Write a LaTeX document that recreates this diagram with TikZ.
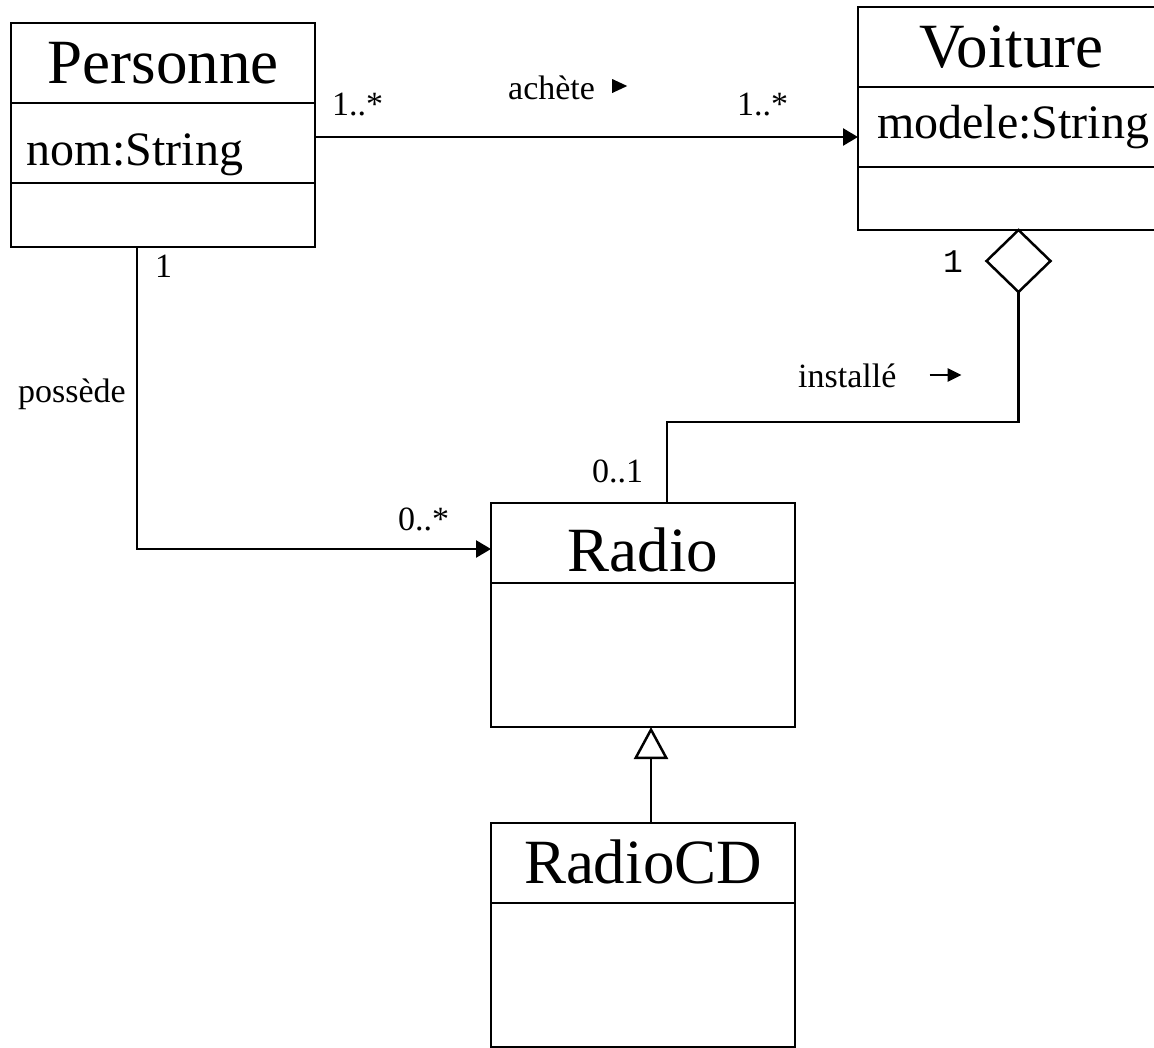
\documentclass[tikz,border=0pt]{standalone}
\usepackage{fontspec}
\setmainfont{Liberation Serif}
\newfontfamily\monofont{Liberation Mono}
\usepackage{tikz}
\usetikzlibrary{arrows.meta,positioning,shapes.geometric}

\tikzset{
	classe/.style={draw, line width=2.5pt, inner sep=0pt, outer sep=0pt, minimum width=304pt, text depth=0pt, text height=40pt},
	titre/.style={classe, minimum height=80pt, font=\fontsize{63}{70}\selectfont},
	attribut/.style={classe, minimum height=80pt, align=left, text width=272pt, inner xsep=16pt, font=\fontsize{48}{56}\selectfont},
	methodes/.style={classe},
	mult/.style={inner sep=0pt, font=\fontsize{34}{40}\selectfont},
	assoc/.style={line width=2.5pt, -{Triangle[length=15pt,width=17pt]}},
	lien/.style={line width=2.5pt}
}

\begin{document}
\begin{tikzpicture}[x=1pt, y=-1pt]
		\useasboundingbox (0,0) rectangle (1154,1047);
		\clip (0,0) rectangle (1154,1047);
		% classes
		\node[titre, anchor=north west] (personne) at (11,23) {Personne};
		\node[attribut, anchor=north west, text height=44pt] (nom) at (personne.south west) {nom:String};
		\node[methodes, minimum height=64pt, anchor=north west] (persops) at (nom.south west) {};
		\node[titre, anchor=north west, minimum width=307pt] (voiture) at (858,7) {Voiture};
		\node[attribut, anchor=north west, text height=22pt, inner xsep=19pt, text width=288pt] (modele) at (voiture.south west) {modele:String};
		\node[methodes, minimum width=307pt, minimum height=63pt, anchor=north west] (voitops) at (modele.south west) {};
		\node[titre, anchor=north west, text height=56pt] (radio) at (491,503) {Radio};
		\node[methodes, minimum height=144pt, anchor=north west] (radiocorps) at (radio.south west) {};
		\node[titre, anchor=north west] (radiocd) at (491,823) {RadioCD};
		\node[methodes, minimum height=144pt, anchor=north west] (radiocdcorps) at (radiocd.south west) {};
		\node[draw, diamond, line width=2.5pt, outer sep=0pt, minimum width=64pt, minimum height=62pt, inner sep=0pt, anchor=north] (agg) at ([xshift=7pt]voitops.south) {};
		% associations
		\draw[assoc] ([yshift=6pt]nom.east) -- ([yshift=6pt]nom.east -| modele.west);
		\draw[assoc] ([xshift=-26pt]persops.south) |- ([yshift=-6pt]radio.west);
		\draw[lien] (agg.south) -- ++(0,130) -| ([xshift=24pt]radio.north);
		\draw[lien, -{Triangle[open, fill=white, length=32pt, width=34pt]}] ([xshift=8pt]radiocd.north) -- ([xshift=8pt]radiocorps.south);
		% labels
		\node[mult, anchor=base west] (mult1) at (332,115) {1..*};
		\node[mult, anchor=base west] (achete) at (508,99) {achète};
		\fill (achete.base east) ++(17,-6) -- ++(0,-14) -- ++(15,7) -- cycle;
		\node[mult, anchor=base west] (mult2) at (737,115) {1..*};
		\node[mult, anchor=base west] (mult3) at (155,277) {1};
		\node[mult, anchor=base west] (possede) at (18,402) {possède};
		\node[mult, anchor=base west] (mult4) at (398,530) {0..*};
		\node[mult, anchor=base west] (mult5) at (592,482) {0..1};
		\node[mult, anchor=base west] (installe) at (798,387) {installé};
		\draw[line width=2.5pt, -{Triangle[length=14pt,width=13pt]}] ([xshift=33pt,yshift=12pt]installe.base east) -- ++(32,0);
		\node[mult, font=\monofont\fontsize{33}{38}\selectfont, anchor=base west] (mult6) at (943,272) {1};
\end{tikzpicture}
\end{document}
